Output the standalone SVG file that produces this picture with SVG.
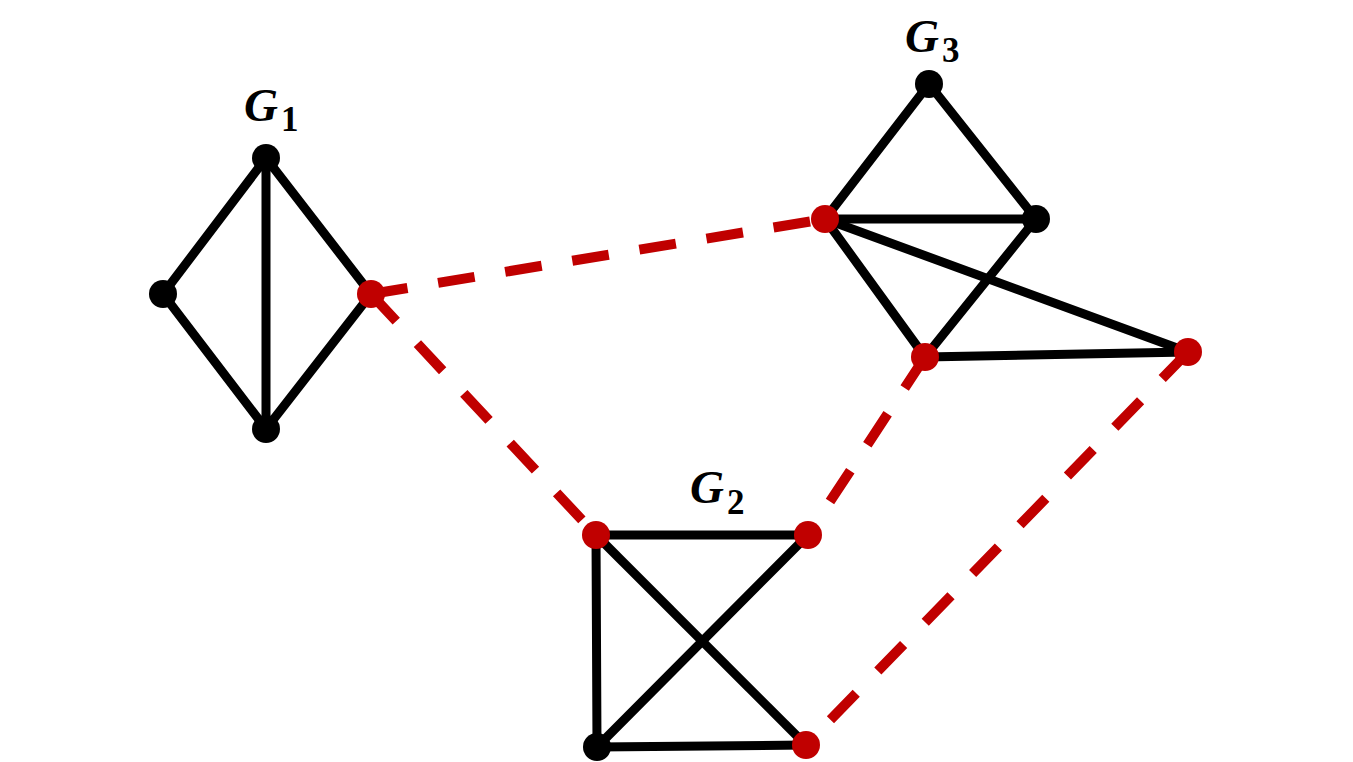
<svg xmlns="http://www.w3.org/2000/svg" width="1353" height="762" viewBox="0 0 1353 762">
<style>
.e{stroke:#000;stroke-width:9;stroke-linecap:round;fill:none}
.d{stroke:#C00000;stroke-width:10;stroke-dasharray:37 31;fill:none}
.b{fill:#000}
.r{fill:#C00000}
.lab{font-family:"Liberation Serif",serif;font-weight:bold;fill:#000}
.g{font-style:italic;font-size:47px}
.s{font-size:35px}
</style>
<rect width="1353" height="762" fill="#fff"/>
<g id="connectors">
<line class="d" x1="371" y1="294" x2="825" y2="219"/>
<line class="d" x1="371" y1="294" x2="596" y2="535"/>
<line class="d" x1="925" y1="357" x2="808" y2="535"/>
<line class="d" x1="1188" y1="352" x2="806" y2="745"/>
<line class="e" x1="266" y1="158" x2="163" y2="294"/>
<line class="e" x1="266" y1="158" x2="371" y2="294"/>
<line class="e" x1="266" y1="158" x2="266" y2="429"/>
<line class="e" x1="163" y1="294" x2="266" y2="429"/>
<line class="e" x1="371" y1="294" x2="266" y2="429"/>
<line class="e" x1="929" y1="84" x2="825" y2="219"/>
<line class="e" x1="929" y1="84" x2="1036" y2="219"/>
<line class="e" x1="825" y1="219" x2="1036" y2="219"/>
<line class="e" x1="825" y1="219" x2="925" y2="357"/>
<line class="e" x1="1036" y1="219" x2="925" y2="357"/>
<line class="e" x1="825" y1="219" x2="1188" y2="352"/>
<line class="e" x1="925" y1="357" x2="1188" y2="352"/>
<line class="e" x1="596" y1="535" x2="808" y2="535"/>
<line class="e" x1="596" y1="535" x2="597" y2="747"/>
<line class="e" x1="596" y1="535" x2="806" y2="745"/>
<line class="e" x1="808" y1="535" x2="597" y2="747"/>
<line class="e" x1="597" y1="747" x2="806" y2="745"/>
</g>
<g id="G1">
<circle class="b" cx="266" cy="158" r="14"/>
<circle class="b" cx="163" cy="294" r="14"/>
<circle class="r" cx="371" cy="294" r="14"/>
<circle class="b" cx="266" cy="429" r="14"/>
<text class="lab" x="244" y="121"><tspan class="g">G</tspan><tspan class="s" dx="3" dy="10">1</tspan></text>
</g>
<g id="G2">
<circle class="r" cx="596" cy="535" r="14"/>
<circle class="r" cx="808" cy="535" r="14"/>
<circle class="b" cx="597" cy="747" r="14"/>
<circle class="r" cx="806" cy="745" r="14"/>
<text class="lab" x="690" y="503"><tspan class="g">G</tspan><tspan class="s" dx="3" dy="11">2</tspan></text>
</g>
<g id="G3">
<circle class="b" cx="929" cy="84" r="14"/>
<circle class="r" cx="825" cy="219" r="14"/>
<circle class="b" cx="1036" cy="219" r="14"/>
<circle class="r" cx="925" cy="357" r="14"/>
<circle class="r" cx="1188" cy="352" r="14"/>
<text class="lab" x="905" y="52"><tspan class="g">G</tspan><tspan class="s" dx="3" dy="10">3</tspan></text>
</g>
</svg>
